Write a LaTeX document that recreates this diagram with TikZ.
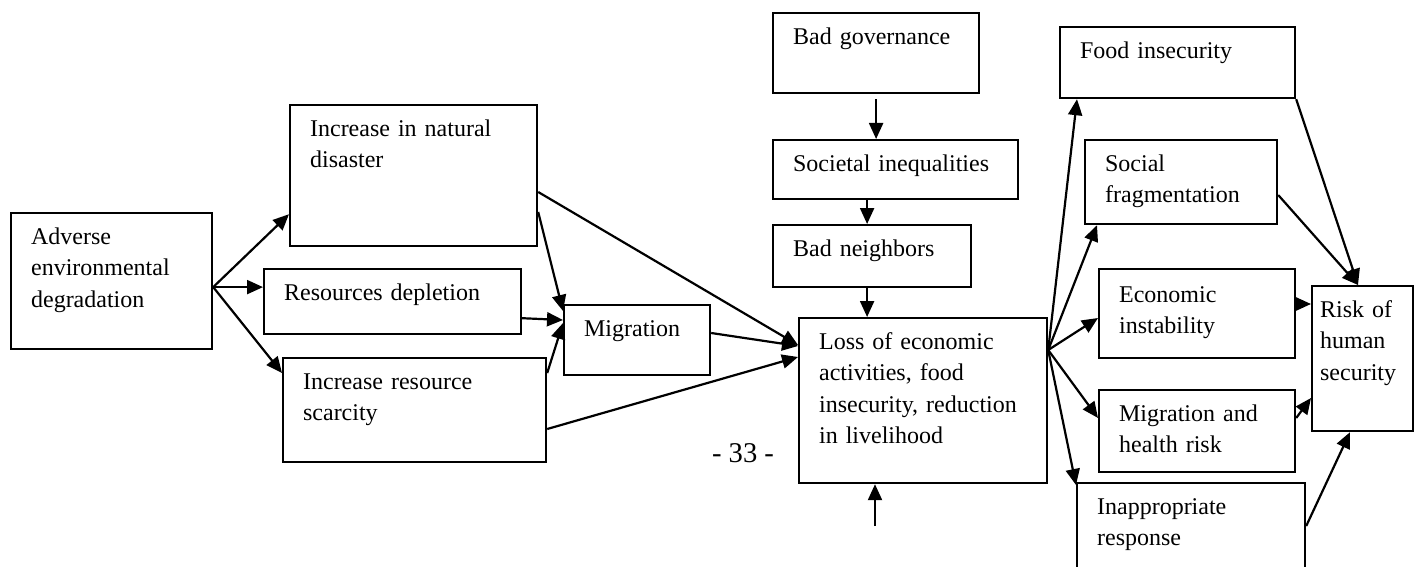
\documentclass[tikz,border=0pt]{standalone}
\usepackage{fontspec}
\setmainfont{Liberation Serif}
\usetikzlibrary{arrows.meta,calc}

\begin{document}
\begin{tikzpicture}[x=0.5pt, y=-0.5pt,
  box/.style={draw, line width=1.1pt, anchor=north west, align=left, inner xsep=10pt, inner ysep=0pt,
    text height=15.5pt, font=\fontsize{12}{15.75}\selectfont},
  arr/.style={line width=1.1pt, -{Triangle[length=8pt,width=7pt]}}]
  \useasboundingbox (0,0) rectangle (1418,567);
  \clip (0,0) rectangle (1418,567);

  \node[box, text width=80.5pt, text depth=52.5pt] (adv) at (10,212) {Adverse\\environmental\\degradation};
  \node[box, text width=103.5pt, text depth=55pt] (inat) at (289,104) {Increase in natural\\disaster};
  \node[box, text width=108.5pt, text depth=17pt] (rdep) at (263,268) {Resources depletion};
  \node[box, text width=111.5pt, text depth=36.5pt] (rsca) at (282,357) {Increase resource\\scarcity};
  \node[box, text width=53pt, text depth=19.5pt] (mig) at (563,304) {Migration};

  \node[box, text width=83pt, text depth=24.5pt] (gov) at (772,12) {Bad governance};
  \node[box, text width=102.5pt, text depth=14pt] (ineq) at (772,139) {Societal inequalities};
  \node[box, text width=79pt, text depth=15.5pt] (nbr) at (772,224) {Bad neighbors};
  \node[box, text width=104pt, text depth=67pt] (loss) at (798,317) {Loss of economic\\activities, food\\insecurity, reduction\\in livelihood};
  \node[font=\fontsize{14.3}{17}\selectfont] (pg) at (743,453) {- 33 -};

  \node[box, text width=97.5pt, text depth=20pt] (food) at (1059,26) {Food insecurity};
  \node[box, text width=76pt, text depth=26.5pt] (frag) at (1084,139) {Social\\fragmentation};
  \node[box, text width=78pt, text height=16.5pt, text depth=28pt] (econ) at (1098,268) {Economic\\instability};
  \node[box, text width=78pt, text depth=25.5pt] (migh) at (1098,389) {Migration and\\health risk};
  \node[box, text width=94pt, text depth=49.5pt] (inap) at (1076,482) {Inappropriate\\response};
  \node[box, inner xsep=4pt, text width=42.5pt, text depth=57pt] (risk) at (1311,285) {Risk of\\human\\security};

  \coordinate (a0) at ([yshift=-3pt]adv.east);
  \draw[arr] (a0) -- ([yshift=16.5pt]inat.south west);
  \draw[arr] (a0) -- (a0 -| rdep.west);
  \draw[arr] (a0) -- ([yshift=-8pt]rsca.north west);

  \draw[arr] ([yshift=-54pt]inat.north east) -- ([yshift=-3.5pt]mig.north west);
  \draw[arr] ([yshift=8.5pt]rdep.south east) -- ([yshift=-8pt]mig.north west);
  \draw[arr] ([yshift=-8pt]rsca.north east) -- ([yshift=-9.5pt]mig.north west);

  \draw[arr] ([yshift=-44pt]inat.north east) -- ([yshift=-14pt]loss.north west);
  \draw[arr] ([yshift=-14.5pt]mig.north east) -- ([yshift=-14.5pt]loss.north west);
  \draw[arr] ([yshift=-36pt]rsca.north east) -- ([yshift=-20pt]loss.north west);

  \draw[arr] ([yshift=-2.5pt]gov.south) -- (gov.south |- ineq.north);
  \draw[arr] ([xshift=-2.5pt]nbr.north |- ineq.south) -- ([xshift=-2.5pt]nbr.north);
  \draw[arr] ([xshift=-2.5pt]nbr.south) -- ([xshift=-2.5pt]nbr.south |- loss.north);
  \coordinate (lossin) at (875,526);
  \draw[arr] (lossin) -- (lossin |- loss.south);

  \coordinate (fan) at ([yshift=-16.5pt]loss.north east);
  \draw[arr] (fan) -- ([xshift=9pt]food.south west);
  \draw[arr] (fan) -- ([xshift=6.5pt]frag.south west);
  \draw[arr] (fan) -- ([yshift=-25pt]econ.north west);
  \draw[arr] (fan) -- ([yshift=-14.5pt]migh.north west);
  \draw[arr] (fan) -- ([yshift=-1.5pt]inap.north west);

  \coordinate (rtop) at ([xshift=23.5pt]risk.north west);
  \draw[arr] (food.south east) -- (rtop);
  \draw[arr] ([yshift=-28pt]frag.north east) -- (rtop);
  \draw[arr] ([yshift=-18pt]econ.north east) -- ([yshift=-18pt]econ.north east -| risk.west);
  \draw[arr] ([yshift=-14.5pt]migh.north east) -- ([yshift=-56.5pt]risk.north west);
  \draw[arr] ([yshift=-22pt]inap.north east) -- ([xshift=19.5pt]risk.south west);
\end{tikzpicture}
\end{document}
